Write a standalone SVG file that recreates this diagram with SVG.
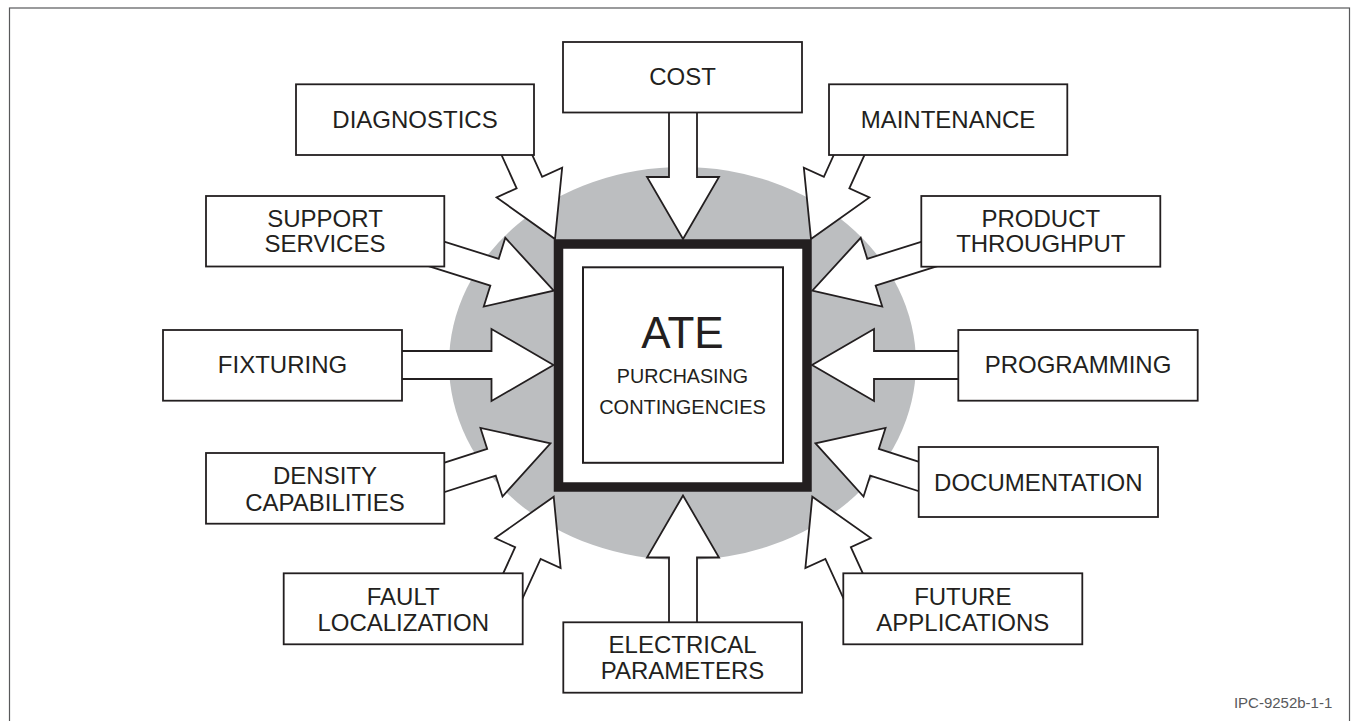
<svg xmlns="http://www.w3.org/2000/svg" width="1355" height="721" viewBox="0 0 1355 721">
<defs>
<style>
.box{fill:#fff;stroke:#231f20;stroke-width:1.8}
.lbl{font-family:"Liberation Sans",Arial,sans-serif;font-size:24px;fill:#231f20;text-anchor:middle}
.arr{fill:#fff;stroke:#231f20;stroke-width:1.8;stroke-linejoin:miter}
</style>
<polygon id="ar" points="0,0 -62,-36 -62,-14 -150,-14 -150,14 -62,14 -62,36"/>
<polygon id="arL" points="0,0 -62,-36 -62,-14 -175,-14 -175,14 -62,14 -62,36"/>
</defs>
<rect x="0" y="0" width="1355" height="721" fill="#fff"/>
<rect x="9.5" y="8" width="1340" height="730" fill="none" stroke="#58595b" stroke-width="1.2"/>
<ellipse cx="682.5" cy="363.5" rx="233.5" ry="196.5" fill="#bcbec0"/>
<g id="connectors">
<use href="#ar" class="arr" transform="translate(683,239) rotate(90)"/>
<use href="#ar" class="arr" transform="translate(683,495.5) rotate(-90)"/>
<use href="#arL" class="arr" transform="translate(553.5,365)"/>
<use href="#arL" class="arr" transform="translate(812,365) rotate(180)"/>
<use href="#ar" class="arr" transform="translate(555,239) rotate(65.6)"/>
<use href="#ar" class="arr" transform="translate(811,239) rotate(114.4)"/>
<use href="#ar" class="arr" transform="translate(553.7,290.7) rotate(17.4)"/>
<use href="#ar" class="arr" transform="translate(812.3,290.7) rotate(162.6)"/>
<use href="#ar" class="arr" transform="translate(550.5,443.3) rotate(-17.8)"/>
<use href="#ar" class="arr" transform="translate(815.5,443.3) rotate(-162.2)"/>
<use href="#ar" class="arr" transform="translate(553.7,496.7) rotate(-65.4)"/>
<use href="#ar" class="arr" transform="translate(812.3,496.7) rotate(-114.6)"/>
</g>
<g id="ate">
<rect x="558.5" y="244" width="248.5" height="243" fill="#fff" stroke="#231f20" stroke-width="9.5"/>
<rect x="583" y="267.3" width="200" height="195.5" fill="#fff" stroke="#231f20" stroke-width="2"/>
<text x="682.5" y="348.3" class="lbl" style="font-size:44px">ATE</text>
<text x="682.5" y="382.7" class="lbl" style="font-size:19.7px">PURCHASING</text>
<text x="682.5" y="414.3" class="lbl" style="font-size:20px">CONTINGENCIES</text>
</g>
<g id="cost"><rect x="563" y="42" width="239" height="70.5" class="box"/><text x="682.5" y="85" class="lbl">COST</text></g>
<g id="diagnostics"><rect x="296" y="84.3" width="238" height="70.7" class="box"/><text x="415" y="127.7" class="lbl">DIAGNOSTICS</text></g>
<g id="maintenance"><rect x="829" y="84.3" width="238.3" height="70.7" class="box"/><text x="948" y="127.7" class="lbl">MAINTENANCE</text></g>
<g id="support-services"><rect x="206" y="196" width="238.3" height="70.5" class="box"/><text x="325" y="226.7" class="lbl">SUPPORT</text><text x="325" y="252.3" class="lbl">SERVICES</text></g>
<g id="product-throughput"><rect x="921.3" y="196" width="239" height="70.7" class="box"/><text x="1040.8" y="226.7" class="lbl">PRODUCT</text><text x="1040.8" y="252.3" class="lbl">THROUGHPUT</text></g>
<g id="fixturing"><rect x="163" y="330" width="239" height="70.7" class="box"/><text x="282.5" y="373" class="lbl">FIXTURING</text></g>
<g id="programming"><rect x="958.3" y="330" width="239.4" height="70.7" class="box"/><text x="1078" y="373" class="lbl">PROGRAMMING</text></g>
<g id="density-capabilities"><rect x="206" y="453" width="238.3" height="70.7" class="box"/><text x="325" y="484.3" class="lbl">DENSITY</text><text x="325" y="510.7" class="lbl">CAPABILITIES</text></g>
<g id="documentation"><rect x="918.7" y="447" width="239.3" height="70" class="box"/><text x="1038.3" y="491" class="lbl">DOCUMENTATION</text></g>
<g id="fault-localization"><rect x="283.7" y="573.3" width="239" height="71" class="box"/><text x="403.2" y="605" class="lbl">FAULT</text><text x="403.2" y="630.7" class="lbl">LOCALIZATION</text></g>
<g id="future-applications"><rect x="843.3" y="573.3" width="239" height="71" class="box"/><text x="962.8" y="605" class="lbl">FUTURE</text><text x="962.8" y="630.7" class="lbl">APPLICATIONS</text></g>
<g id="electrical-parameters"><rect x="563.3" y="622.3" width="238.7" height="70.4" class="box"/><text x="682.6" y="653.3" class="lbl">ELECTRICAL</text><text x="682.6" y="679.3" class="lbl">PARAMETERS</text></g>
<text x="1332.3" y="707.7" style="font-family:'Liberation Sans',Arial,sans-serif;font-size:15px;fill:#58595b;text-anchor:end">IPC-9252b-1-1</text>
</svg>
